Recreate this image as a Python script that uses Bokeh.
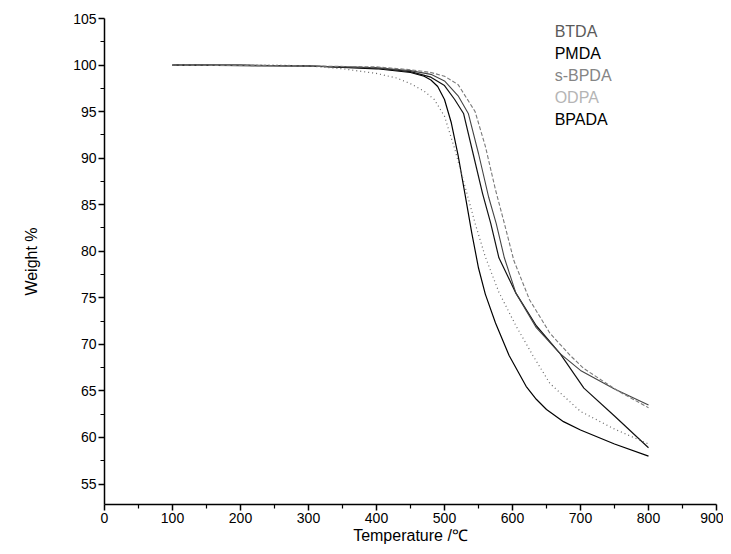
from bokeh.plotting import figure
from bokeh.models import Range1d, Label, FixedTicker
from bokeh.embed import file_html
from bokeh.resources import INLINE

# ---- data ----
pmda_t = [100, 200, 300, 400, 450, 470, 480, 490, 500, 510, 520, 530, 540, 550, 560, 575, 595, 620, 635, 650, 675, 700, 750, 800]
pmda_w = [100.0, 100.0, 99.9, 99.6, 99.2, 98.8, 98.4, 97.7, 96.3, 93.8, 90.3, 86.2, 82.0, 78.2, 75.4, 72.3, 68.8, 65.5, 64.1, 63.0, 61.7, 60.8, 59.3, 58.0]

spbda_t = [100, 250, 300, 350, 400, 430, 450, 470, 485, 500, 515, 530, 545, 560, 580, 605, 630, 655, 700, 750, 800]
spbda_w = [100.0, 100.0, 99.9, 99.6, 99.1, 98.6, 98.0, 97.2, 96.3, 94.5, 91.0, 87.0, 83.0, 79.4, 75.6, 72.0, 68.8, 65.8, 62.8, 60.9, 59.3]

bpada_t = [100, 300, 400, 450, 480, 500, 515, 528, 542, 556, 568, 580, 605, 635, 670, 705, 750, 800]
bpada_w = [100.0, 99.9, 99.7, 99.3, 98.7, 97.8, 96.3, 94.8, 90.5, 86.2, 83.0, 79.3, 75.5, 72.0, 69.0, 65.3, 62.3, 58.9]

btda_t = [100, 300, 400, 450, 480, 500, 520, 535, 550, 565, 576, 588, 605, 635, 670, 700, 750, 800]
btda_w = [100.0, 99.9, 99.7, 99.4, 99.0, 98.3, 96.7, 94.8, 90.5, 85.8, 83.0, 79.3, 75.5, 71.8, 69.0, 67.2, 65.2, 63.5]

odpa_t = [100, 300, 400, 450, 480, 500, 520, 545, 560, 575, 588, 602, 625, 655, 685, 705, 755, 800]
odpa_w = [100.0, 99.9, 99.8, 99.5, 99.2, 98.8, 97.9, 95.0, 91.3, 86.6, 83.0, 79.0, 74.8, 71.2, 68.8, 67.4, 65.0, 63.2]

legend_names = ["BTDA", "PMDA", "s-BPDA", "ODPA", "BPADA"]
legend_colors = ["#5a5a5a", "#000000", "#858585", "#b5b5b5", "#000000"]

x_ticks = [0, 100, 200, 300, 400, 500, 600, 700, 800, 900]
y_ticks = [55, 60, 65, 70, 75, 80, 85, 90, 95, 100, 105]

FONT = "Liberation Sans"

p = figure(width=723, height=546, output_backend="svg", toolbar_location=None,
           x_range=Range1d(0, 900), y_range=Range1d(52.8, 105),
           min_border_left=104, min_border_right=7, min_border_top=18, min_border_bottom=0)
p.outline_line_color = None
p.xgrid.visible = False
p.ygrid.visible = False
p.background_fill_color = "white"

# curves
p.line(pmda_t, pmda_w, line_color="#000000", line_width=1.2)
p.line(bpada_t, bpada_w, line_color="#111111", line_width=1.2)
p.line(btda_t, btda_w, line_color="#444444", line_width=1.1)
p.line(spbda_t, spbda_w, line_color="#666666", line_width=1.2, line_dash="1 3")
p.line(odpa_t, odpa_w, line_color="#7a7a7a", line_width=1.1, line_dash="4 2")

# axes
for ax in (p.xaxis[0], p.yaxis[0]):
    ax.axis_line_width = 1.5
    ax.axis_line_color = "black"
    ax.major_tick_line_color = "black"
    ax.minor_tick_line_color = "black"
    ax.major_tick_line_width = 1.5
    ax.minor_tick_line_width = 1.2
    ax.major_tick_in = 0
    ax.minor_tick_in = 0
    ax.major_label_text_font = FONT
    ax.major_label_text_font_size = "14px"
    ax.major_label_text_color = "black"
    ax.axis_label_text_font = FONT
    ax.axis_label_text_font_size = "16px"
    ax.axis_label_text_font_style = "normal"
    ax.axis_label_text_color = "black"

p.xaxis[0].ticker = FixedTicker(ticks=x_ticks, minor_ticks=[x + 50 for x in x_ticks[:-1]])
p.yaxis[0].ticker = FixedTicker(ticks=y_ticks, minor_ticks=[y - 2.5 for y in y_ticks])
p.xaxis[0].major_tick_out = 6
p.xaxis[0].minor_tick_out = 4
p.yaxis[0].major_tick_out = 6
p.yaxis[0].minor_tick_out = 4
p.xaxis[0].major_label_standoff = 2
p.yaxis[0].major_label_standoff = 2
p.xaxis[0].axis_label = "Temperature /\u2103"
p.yaxis[0].axis_label = "Weight %"
p.xaxis[0].axis_label_standoff = 1
p.yaxis[0].axis_label_standoff = 30

# text-only legend (placed in data space at the upper right)
leg_x = 662
leg_y0 = 103.6
leg_dy = 2.35
for i, (name, col) in enumerate(zip(legend_names, legend_colors)):
    p.add_layout(Label(x=leg_x, y=leg_y0 - i * leg_dy, text=name, text_color=col,
                       text_font=FONT, text_font_size="16px", text_baseline="middle"))

open("out.html", "w").write(file_html(p, INLINE))
